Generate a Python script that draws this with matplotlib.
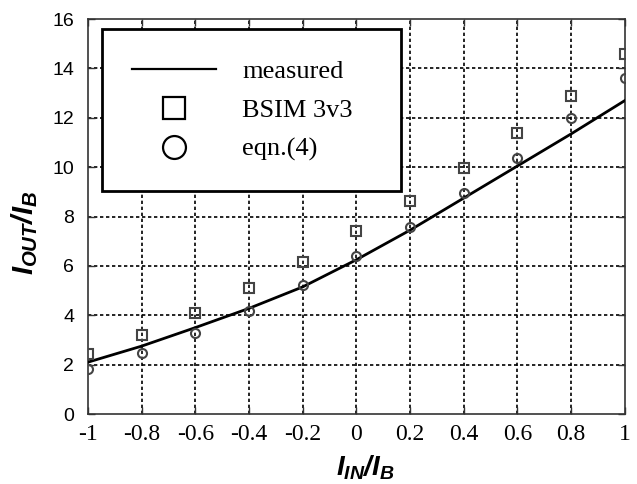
import matplotlib.pyplot as plt
import numpy as np
from matplotlib.lines import Line2D

plt.rcParams['axes.unicode_minus'] = False
plt.rcParams['mathtext.fontset'] = 'custom'
plt.rcParams['mathtext.it'] = 'Liberation Sans:bold:italic'
plt.rcParams['mathtext.rm'] = 'Liberation Sans:bold:italic'

# normalized input current I_IN/I_B
x_in = np.array([-1.0, -0.8, -0.6, -0.4, -0.2, 0.0, 0.2, 0.4, 0.6, 0.8, 1.0])

# output current I_OUT/I_B
measured = np.array([2.1, 2.75, 3.5, 4.28, 5.15, 6.25, 7.45, 8.75, 10.05, 11.35, 12.7])
bsim = np.array([2.43, 3.2, 4.1, 5.09, 6.14, 7.4, 8.61, 9.97, 11.4, 12.9, 14.57])
eqn4 = np.array([1.81, 2.48, 3.29, 4.18, 5.22, 6.4, 7.58, 8.96, 10.39, 12.0, 13.6])

x_ticks = [-1, -0.8, -0.6, -0.4, -0.2, 0, 0.2, 0.4, 0.6, 0.8, 1]
x_tick_labels = ['-1', '-0.8', '-0.6', '-0.4', '-0.2', '0', '0.2', '0.4', '0.6', '0.8', '1']
y_ticks = [0, 2, 4, 6, 8, 10, 12, 14, 16]

fig = plt.figure(figsize=(6.37, 4.84), dpi=100)
ax = fig.add_axes([0.138, 0.1446, 0.843, 0.816])

# grid (dashed, only interior lines)
for gx in x_ticks[1:-1]:
    ax.axvline(gx, color='black', lw=1.2, ls=(0, (2, 1.6)), zorder=1)
for gy in y_ticks[1:-1]:
    ax.axhline(gy, color='black', lw=1.2, ls=(0, (2, 1.6)), zorder=1)

ax.plot(x_in, measured, color='black', lw=2.0, zorder=3)
ax.plot(x_in, bsim, ls='none', marker='s', ms=6.5, mfc='none', mec='#444444', mew=1.5, zorder=4)
ax.plot(x_in, eqn4, ls='none', marker='o', ms=6.5, mfc='none', mec='#444444', mew=1.5, zorder=4)

ax.set_xlim(-1, 1)
ax.set_ylim(0, 16)
ax.set_xticks(x_ticks)
ax.set_xticklabels(x_tick_labels, family='Liberation Serif', fontsize=17)
ax.set_yticks(y_ticks)
ax.set_yticklabels([str(v) for v in y_ticks], family='Liberation Sans', fontsize=14)
ax.tick_params(direction='in', length=5, width=1, top=True, right=True, colors='#333333', labelcolor='black')
ax.tick_params(axis='x', pad=7)
ax.tick_params(axis='y', pad=10)
for sp in ax.spines.values():
    sp.set_color('#333333')
    sp.set_linewidth(1.2)

ax.set_xlabel(r'$I_{IN}/I_B$', fontsize=20)
ax.set_ylabel(r'$I_{OUT}/I_B$', fontsize=21)
ax.xaxis.set_label_coords(0.516, -0.137)
ax.xaxis.label.set_va('center')
ax.yaxis.set_label_coords(-0.117, 0.458)
ax.yaxis.label.set_va('center')

handles = [
    Line2D([], [], color='black', lw=1.6),
    Line2D([], [], ls='none', marker='s', ms=16.5, mfc='none', mec='black', mew=1.6),
    Line2D([], [], ls='none', marker='o', ms=16.5, mfc='none', mec='black', mew=1.6),
]
leg = ax.legend(handles, ['measured', 'BSIM 3v3', 'eqn.(4)'], loc='upper left',
                bbox_to_anchor=(0.0255, 0.0, 0.5575, 0.974), mode='expand',
                prop={'family': 'Liberation Serif', 'size': 19},
                fancybox=False, framealpha=1, edgecolor='black', borderpad=1.14,
                handlelength=3.2, handletextpad=0.98, labelspacing=0.59, borderaxespad=0)
leg.get_frame().set_linewidth(2.0)
leg.set_zorder(5)

fig.savefig('out.png', dpi=100)
